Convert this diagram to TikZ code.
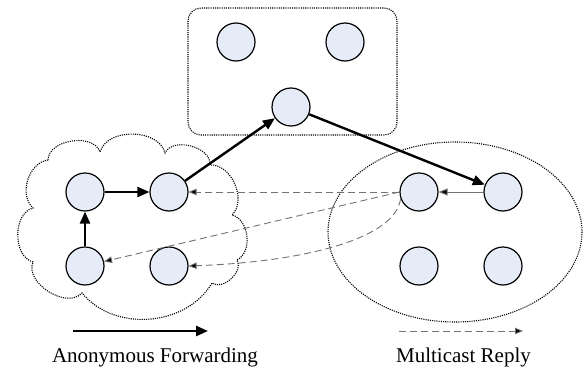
\documentclass[tikz,border=0pt]{standalone}
\usepackage{fontspec}
\setmainfont{Liberation Serif}
\usetikzlibrary{arrows.meta}
\definecolor{nodefill}{RGB}{230,236,247}
\definecolor{replygray}{RGB}{115,115,115}
\tikzset{
  peer/.style={circle,draw=black,line width=1.2pt,fill=nodefill,minimum size=38pt,inner sep=0pt},
  group/.style={draw=black,line width=1.1pt,dash pattern=on 1.1pt off 1.1pt},
  fwd/.style={line width=2.4pt,-{Triangle[length=12pt,width=10pt]}},
  reply/.style={dash pattern=on 7pt off 4pt,draw=replygray,line width=0.9pt,-{Triangle[length=8pt,width=6.5pt,fill=black]}},
  local/.style={draw=replygray,line width=1pt,-{Triangle[length=9pt,width=7pt,fill=black]}},
  legend/.style={font=\fontsize{21}{24}\selectfont,anchor=base,inner sep=0pt}
}
\begin{document}
\begin{tikzpicture}[x=1pt,y=-1pt]
\useasboundingbox (0,0) rectangle (584,367);
% top group
\draw[group,rounded corners=13pt] (188,8) rectangle (397,135);
% cloud group, traced as puffs between valley points
\draw[group] (48,160)
  to[bend left=80] (100,152)
  to[bend left=75] (165,153)
  to[bend left=80] (210,165)
  to[bend left=70] (232,215)
  to[bend left=70] (237,260)
  to[bend left=80] (212,283)
  to[bend left=55] (82,293)
  to[bend left=80] (33,262)
  to[bend left=75] (33,208)
  to[bend left=65] cycle;
% ellipse group
\draw[group] (455,232) ellipse [x radius=127, y radius=90];
% peers in the top group
\node[peer] (t1) at (236,42) {};
\node[peer] (t2) at (345,42) {};
\node[peer] (t3) at (291,107) {};
% peers in the cloud
\node[peer] (a1) at (85,192) {};
\node[peer] (a2) at (169,192) {};
\node[peer] (a3) at (85,266) {};
\node[peer] (a4) at (169,266) {};
% peers in the ellipse
\node[peer] (m1) at (419,192) {};
\node[peer] (m2) at (503,192) {};
\node[peer] (m3) at (419,266) {};
\node[peer] (m4) at (503,266) {};
% anonymous forwarding path
\draw[fwd] (a3) -- (a1);
\draw[fwd] (a1) -- (a2);
\draw[fwd] (a2) -- (t3);
\draw[fwd] (t3) -- (m2);
\draw[local] (m2) -- (m1);
% multicast replies
\draw[reply] (m1) -- (a2);
\draw[reply] (m1.west) -- (a3);
\draw[reply] (m1.200) .. controls (395,240) and (300,262) .. (a4.east);
% legend
\coordinate (f0) at (73,331);
\coordinate (f1) at (208,331);
\draw[fwd] (f0) -- (f1);
\node[legend] (flabel) at (155,362) {Anonymous Forwarding};
\coordinate (r0) at (399,331);
\coordinate (r1) at (523,331);
\draw[reply] (r0) -- (r1);
\node[legend] (rlabel) at (463.5,362) {Multicast Reply};
\end{tikzpicture}
\end{document}
